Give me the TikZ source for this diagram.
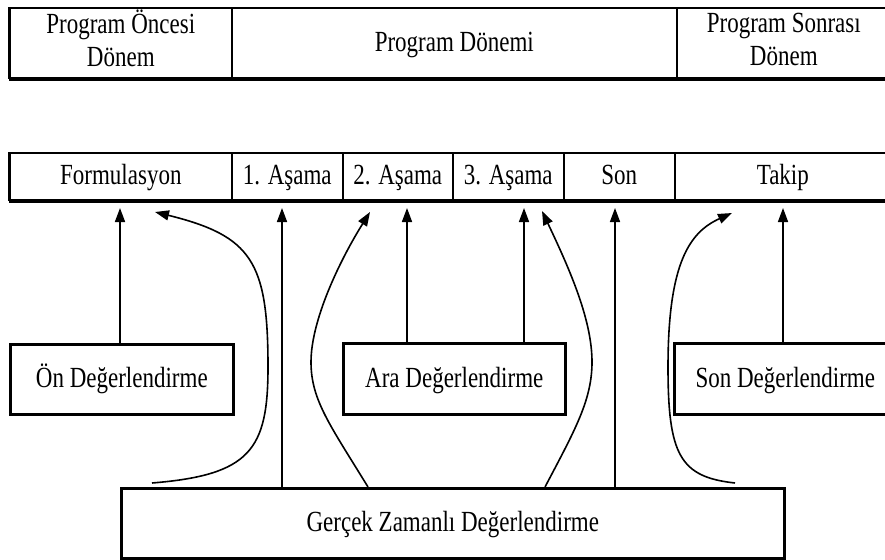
\documentclass[tikz,border=0pt]{standalone}
\usepackage{fontspec}
\setmainfont{Liberation Serif}
\usepackage{graphicx}
\usetikzlibrary{arrows.meta}
\newcommand{\tx}[1]{\scalebox{1}[1.27]{\vphantom{Öğy}#1}}
\newcommand{\twol}[2]{\scalebox{1}[1.27]{\begin{tabular}{@{}c@{}}#1\\#2\end{tabular}}}
\tikzset{
  cell/.style={draw, line width=1.6pt, rectangle, inner sep=0pt, anchor=north west,
    font=\fontsize{23}{26}\selectfont},
  evbox/.style={draw, line width=2.6pt, rectangle, inner sep=0pt, anchor=north west,
    font=\fontsize{23}{26}\selectfont},
  arr/.style={-{Triangle[length=14pt,width=10pt]}, line width=1.6pt},
  thickrule/.style={line width=4pt},
  siderule/.style={line width=3pt},
}
\begin{document}
\begin{tikzpicture}[x=1pt,y=-1pt]
\useasboundingbox (0,0) rectangle (885,559);
% top table
\node[cell, minimum width=222, minimum height=70] (pre) at (9,7) {\twol{Program Öncesi}{Dönem}};
\node[cell, minimum width=445, minimum height=70] (prog) at (231,7) {\tx{Program Dönemi}};
\node[cell, minimum width=214, minimum height=70] (post) at (676,7) {\twol{Program Sonrası}{Dönem}};
\draw[thickrule] (pre.south west) -- (post.south east);
\draw[siderule] (pre.south west) -- (pre.north west);
% second table
\node[cell, minimum width=222, minimum height=47] (form) at (9,152) {\tx{Formulasyon}};
\node[cell, minimum width=111, minimum height=47] (a1) at (231,152) {\tx{1. Aşama}};
\node[cell, minimum width=110, minimum height=47] (a2) at (342,152) {\tx{2. Aşama}};
\node[cell, minimum width=111, minimum height=47] (a3) at (452,152) {\tx{3. Aşama}};
\node[cell, minimum width=111, minimum height=47] (son) at (563,152) {\tx{Son}};
\node[cell, minimum width=216, minimum height=47] (takip) at (674,152) {\tx{Takip}};
\draw[thickrule] (form.south west) -- (takip.south east);
\draw[siderule] (form.south west) -- (form.north west);
% evaluation boxes
\node[evbox, minimum width=223, minimum height=70] (on) at (9,343) {\tx{Ön Değerlendirme}};
\node[evbox, minimum width=222, minimum height=71] (ara) at (342,342) {\tx{Ara Değerlendirme}};
\node[evbox, minimum width=222, minimum height=71] (sond) at (673,342) {\tx{Son Değerlendirme}};
\node[evbox, minimum width=663, minimum height=70] (gz) at (120,487) {\tx{Gerçek Zamanlı Değerlendirme}};
% coordinates
\coordinate (t1) at (120,208);
\coordinate (t2) at (155,212);
\coordinate (t3) at (282,208);
\coordinate (t4) at (370,212);
\coordinate (t5) at (407,208);
\coordinate (t6) at (524,208);
\coordinate (t7) at (542,211);
\coordinate (t8) at (615,208);
\coordinate (t9) at (732,213);
\coordinate (t10) at (783,208);
\coordinate (s2) at (152,483);
\coordinate (s4) at (368,487);
\coordinate (s7) at (545,487);
\coordinate (s9) at (735,483);
% arrows
\draw[arr] (on.north -| t1) -- (t1);
\draw[arr] (s2) .. controls (250,475) and (268,450) .. (268,367)
  .. controls (268,262) and (252,236) .. (t2);
\draw[arr] (gz.north -| t3) -- (t3);
\draw[arr] (s4) .. controls (330,425) and (311,400) .. (311,362)
  .. controls (311,320) and (340,260) .. (t4);
\draw[arr] (ara.north -| t5) -- (t5);
\draw[arr] (ara.north -| t6) -- (t6);
\draw[arr] (s7) .. controls (575,430) and (592,400) .. (592,362)
  .. controls (592,320) and (570,270) .. (t7);
\draw[arr] (gz.north -| t8) -- (t8);
\draw[arr] (s9) .. controls (680,477) and (668,455) .. (668,367)
  .. controls (668,262) and (690,232) .. (t9);
\draw[arr] (sond.north -| t10) -- (t10);
\end{tikzpicture}
\end{document}
